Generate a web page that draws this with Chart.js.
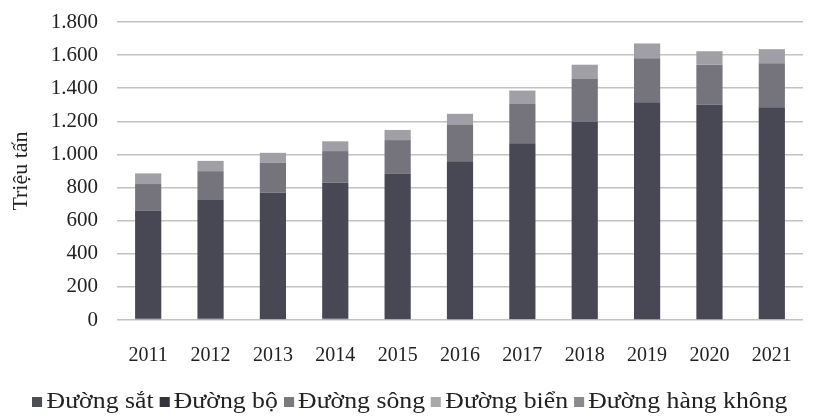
<!DOCTYPE html>
<html>
<head>
<meta charset="utf-8">
<script src="https://cdn.jsdelivr.net/npm/chart.js@4.4.1/dist/chart.umd.min.js"></script>
<style>
  html, body { margin: 0; padding: 0; background: #ffffff; }
  #wrap { width: 813px; height: 417px; position: relative; }
  #legend {
    position: absolute; left: 32px; top: 388px; line-height: 26px;
    font-family: 'Liberation Serif', serif; font-size: 23px; color: #222;
    white-space: nowrap; transform: scaleX(1.12); transform-origin: left center;
  }
  #legend span.box {
    display: inline-block; width: 9px; height: 10px; margin-right: 4px;
    vertical-align: 1px;
  }
  #legend span.item { margin-right: 5px; }
</style>
</head>
<body>
<div id="wrap">
  <canvas id="freightChart"></canvas>
  <div id="legend"></div>
</div>
<script>
// Freight volume by transport mode, million tonnes
const years = ['2011', '2012', '2013', '2014', '2015', '2016', '2017', '2018', '2019', '2020', '2021'];
const railway = [7.3, 6.9, 6.5, 7.2, 6.7, 5.2, 5.6, 5.7, 5.1, 5.2, 5.7];
const road    = [654, 718, 764, 822, 878, 954, 1062, 1191, 1310, 1295, 1280];
const river   = [160, 174, 180, 191, 202, 221, 238, 260, 266, 242, 265];
const sea     = [64, 62, 59, 59, 61, 65, 80, 85, 89, 81, 85];
const air     = [0.2, 0.2, 0.2, 0.2, 0.2, 0.3, 0.3, 0.4, 0.4, 0.3, 0.3];
const yTicks  = [0, 200, 400, 600, 800, 1000, 1200, 1400, 1600, 1800];

const serif = "'Liberation Serif', 'DejaVu Serif', serif";

function series(label, data, color, legendColor) {
    return {
        label: label,
        data: data,
        backgroundColor: color,
        legendColor: legendColor,
        borderWidth: 0,
        categoryPercentage: 1.0,
        barPercentage: 0.42,
    };
}

const ctx = document.getElementById('freightChart').getContext('2d');
const chart = new Chart(ctx, {
    type: 'bar',
    data: {
        labels: years,
        datasets: [
            series('Đường sắt', railway, '#55545c', '#4e4e55'),
            series('Đường bộ', road, '#484754', '#34333d'),
            series('Đường sông', river, '#75747c', '#7a797f'),
            series('Đường biển', sea, '#a09fa5', '#a9a9ab'),
            series('Đường hàng không', air, '#807f86', '#8a898e'),
        ]
    },
    options: {
        responsive: true,
        maintainAspectRatio: false,
        animation: false,
        layout: {
            padding: { top: 22, right: 10, left: 8, bottom: 25 }
        },
        plugins: {
            legend: { display: false },
            tooltip: { enabled: false }
        },
        scales: {
            x: {
                stacked: true,
                grid: { display: false, drawTicks: false },
                border: { display: false },
                ticks: {
                    font: { family: serif, size: 20 },
                    color: '#222',
                    padding: 24,
                },
                afterFit: (axis) => {
                    axis.height = 72;
                    axis.paddingLeft = 0;
                    axis.paddingRight = 0;
                }
            },
            y: {
                stacked: true,
                min: 0,
                max: 1800,
                afterBuildTicks: (axis) => {
                    axis.ticks = yTicks.map(v => ({ value: v }));
                },
                afterFit: (axis) => {
                    axis.width = 109;
                    axis.paddingTop = 0;
                    axis.paddingBottom = 0;
                },
                grid: { color: '#c2c2c2', lineWidth: 1.6, drawTicks: false },
                border: { display: false },
                ticks: {
                    font: { family: serif, size: 21 },
                    color: '#222',
                    padding: 19,
                    callback: (v) => v.toLocaleString('de-DE'),
                },
                title: {
                    display: true,
                    text: 'Triệu tấn',
                    font: { family: serif, size: 22 },
                    color: '#222',
                    padding: { top: 0, bottom: 0 },
                }
            }
        }
    }
});

// HTML legend built from the chart's datasets
const legendEl = document.getElementById('legend');
chart.data.datasets.forEach((ds) => {
    const item = document.createElement('span');
    item.className = 'item';
    const box = document.createElement('span');
    box.className = 'box';
    box.style.background = ds.legendColor;
    item.appendChild(box);
    item.appendChild(document.createTextNode(ds.label));
    legendEl.appendChild(item);
});
</script>
</body>
</html>
